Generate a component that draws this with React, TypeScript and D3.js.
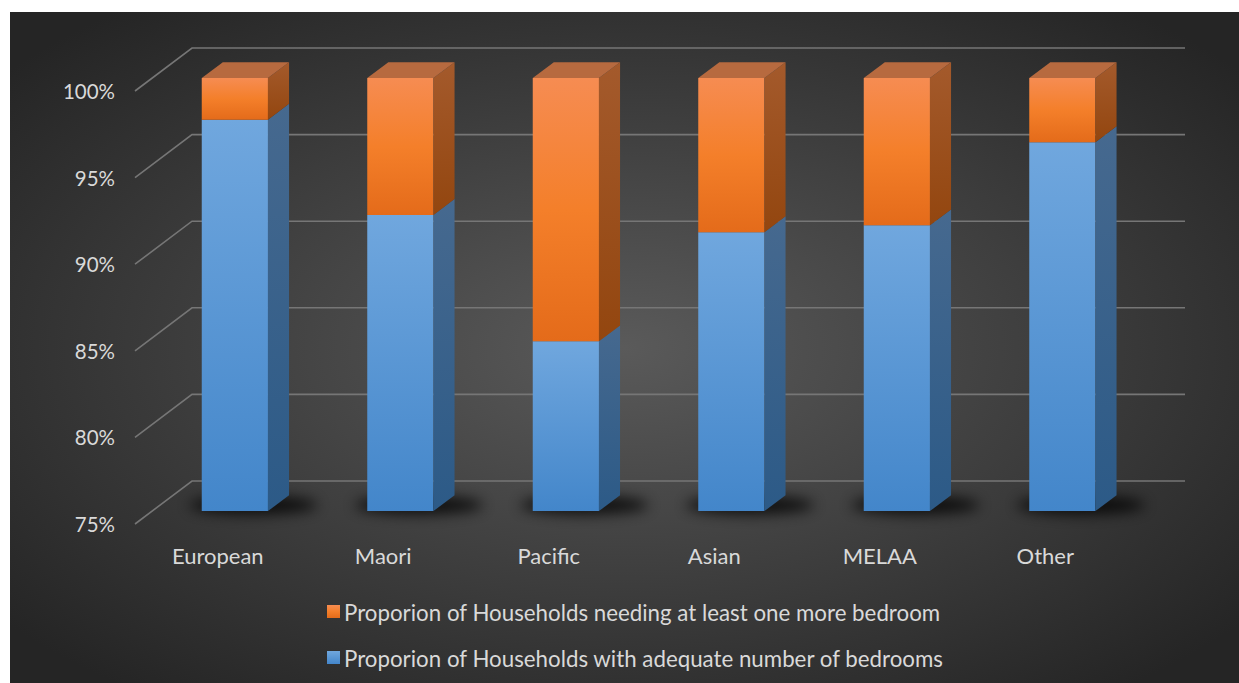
import React from "react";
import * as d3 from "d3";

const categories = ["European", "Maori", "Pacific", "Asian", "MELAA", "Other"];
const adequate = [0.976, 0.921, 0.848, 0.911, 0.915, 0.963];
const needing = adequate.map((v) => 1 - v);
const yTicks = [0.75, 0.8, 0.85, 0.9, 0.95, 1.0];
const seriesNames = [
  "Proporion of Households needing at least one more bedroom",
  "Proporion of Households with adequate number of bedrooms",
];

const W = 1239;
const H = 683;
const DX = 57; // depth projection x
const DY = 43; // depth projection y
const D0 = 0.3; // bar front depth
const D1 = 0.67; // bar back depth

export default function App() {
  const y = d3.scaleLinear().domain([0.75, 1]).range([524, 91]);
  const x = d3.scaleBand<string>().domain(categories).range([135, 1128]).paddingInner(0.6).paddingOuter(0.3);
  const xc = d3.scaleBand<string>().domain(categories).range([135, 1128]);
  const fmt = d3.format(".0%");
  const proj = (px: number, v: number, d: number): [number, number] => [px + DX * d, y(v) - DY * d];
  const poly = (pts: [number, number][]) => pts.map((p) => p.join(",")).join(" ");

  const font = "Lato, 'Open Sans', sans-serif";

  const seg = (c: string, lo: number, hi: number, kind: "b" | "o", i: number) => {
    const x0 = x(c)!;
    const x1 = x0 + x.bandwidth();
    const front = [proj(x0, hi, D0), proj(x1, hi, D0), proj(x1, lo, D0), proj(x0, lo, D0)];
    const side = [proj(x1, hi, D0), proj(x1, hi, D1), proj(x1, lo, D1), proj(x1, lo, D0)];
    const top = [proj(x0, hi, D0), proj(x1, hi, D0), proj(x1, hi, D1), proj(x0, hi, D1)];
    return (
      <g key={c + kind + i}>
        <polygon points={poly(front)} fill={`url(#${kind}Front)`} />
        <polygon points={poly(side)} fill={`url(#${kind}Side)`} />
        {kind === "o" && <polygon points={poly(top)} fill="#b76a3f" />}
      </g>
    );
  };

  return (
    <svg width={W} height={H} style={{ position: "absolute", left: 0, top: 0, display: "block" }}>
      <defs>
        <radialGradient id="bg" cx="50%" cy="50%" r="65%">
          <stop offset="0%" stopColor="#5a5a5a" />
          <stop offset="100%" stopColor="#252525" />
        </radialGradient>
        <linearGradient id="bFront" x1="0" y1="0" x2="0" y2="1">
          <stop offset="0%" stopColor="#70a7de" />
          <stop offset="100%" stopColor="#4386ca" />
        </linearGradient>
        <linearGradient id="bSide" x1="0" y1="0" x2="0" y2="1">
          <stop offset="0%" stopColor="#46698f" />
          <stop offset="100%" stopColor="#2c5a87" />
        </linearGradient>
        <linearGradient id="oFront" x1="0" y1="0" x2="0" y2="1">
          <stop offset="0%" stopColor="#f68c52" />
          <stop offset="50%" stopColor="#f47f2a" />
          <stop offset="100%" stopColor="#e46b1a" />
        </linearGradient>
        <linearGradient id="oSide" x1="0" y1="0" x2="0" y2="1">
          <stop offset="0%" stopColor="#a45a2c" />
          <stop offset="100%" stopColor="#93460f" />
        </linearGradient>
        <filter id="blur" x="-50%" y="-200%" width="200%" height="500%">
          <feGaussianBlur stdDeviation="7" />
        </filter>
      </defs>
      <rect x={10} y={12} width={W - 10} height={H - 12} fill="url(#bg)" />

      {/* gridlines */}
      {yTicks.map((t) => {
        const [ax, ay] = proj(135, t, 0);
        const [bx, by] = proj(135, t, 1);
        const [cx, cy] = proj(1128, t, 1);
        return (
          <g key={"g" + t}>
            <polyline points={poly([[ax, ay], [bx, by], [cx, cy]])} fill="none" stroke="#767676" strokeWidth={1.6} />
            <text x={115} y={ay} textAnchor="end" dominantBaseline="central" fill="#d9d9d9" fontSize={20.5} fontFamily={font}>
              {fmt(t)}
            </text>
          </g>
        );
      })}

      {/* shadows */}
      {categories.map((c) => {
        const [sx, sy] = proj(x(c)! + x.bandwidth() / 2, 0.75, (D0 + D1) / 2);
        return <ellipse key={"s" + c} cx={sx + 8} cy={sy + 2} rx={64} ry={9} fill="#000" opacity={0.8} filter="url(#blur)" />;
      })}

      {/* bars */}
      {categories.map((c, i) => (
        <g key={"bar" + c}>
          {seg(c, 0.75, adequate[i], "b", i)}
          {seg(c, adequate[i], adequate[i] + needing[i], "o", i)}
        </g>
      ))}

      {/* category labels */}
      {categories.map((c) => (
        <text key={"l" + c} x={xc(c)! + xc.bandwidth() / 2} y={555} textAnchor="middle" dominantBaseline="central" fill="#d9d9d9" fontSize={22} fontFamily={font}>
          {c}
        </text>
      ))}

      {/* legend */}
      {seriesNames.map((n, i) => (
        <g key={"lg" + i} transform={`translate(327, ${612 + i * 46})`}>
          <rect x={0} y={-7} width={13} height={13} fill={i === 0 ? "url(#oFront)" : "url(#bFront)"} />
          <text x={17} y={0} dominantBaseline="central" fill="#d9d9d9" fontSize={22.3} fontFamily={font}>
            {n}
          </text>
        </g>
      ))}
    </svg>
  );
}
